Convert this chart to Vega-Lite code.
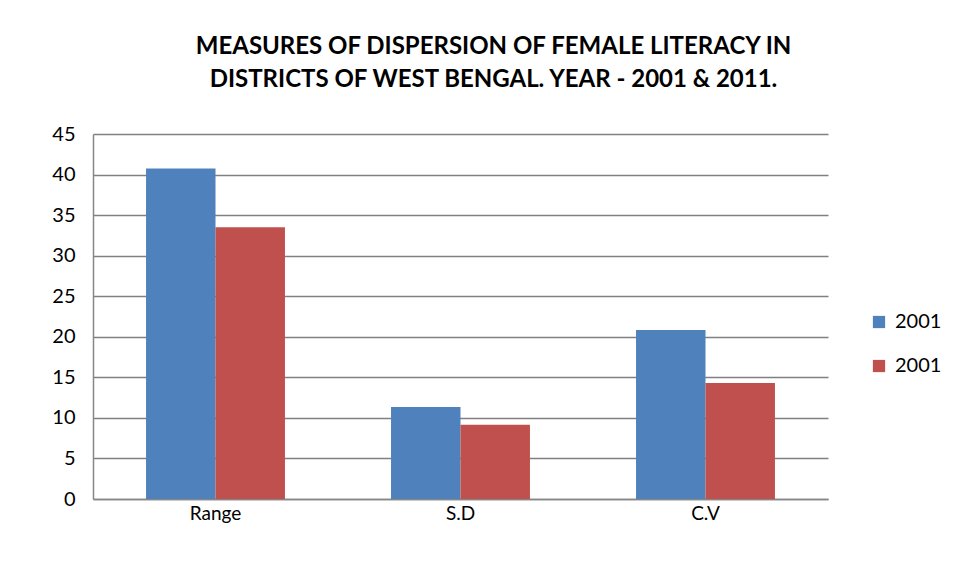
{
  "$schema": "https://vega.github.io/schema/vega-lite/v6.json",
  "autosize": {"type": "none"},
  "width": 735,
  "height": 365,
  "padding": {"left": 93, "top": 134, "right": 129, "bottom": 77},
  "background": "white",
  "title": {
    "text": ["MEASURES OF DISPERSION OF FEMALE LITERACY IN", "DISTRICTS OF WEST BENGAL. YEAR - 2001 & 2011."],
    "font": "Lato",
    "fontSize": 24,
    "fontWeight": "bold",
    "color": "#000000",
    "lineHeight": 33,
    "anchor": "middle",
    "dx": 33,
    "offset": 32
  },
  "data": {
    "values": [
      {"measure": "Range", "year": "2001", "value": 40.75},
      {"measure": "Range", "year": "2011", "value": 33.5},
      {"measure": "S.D", "year": "2001", "value": 11.35},
      {"measure": "S.D", "year": "2011", "value": 9.15},
      {"measure": "C.V", "year": "2001", "value": 20.85},
      {"measure": "C.V", "year": "2011", "value": 14.3}
    ]
  },
  "mark": {"type": "bar"},
  "encoding": {
    "x": {
      "field": "measure",
      "type": "nominal",
      "sort": ["Range", "S.D", "C.V"],
      "scale": {"paddingInner": 0.433, "paddingOuter": 0.2165},
      "axis": {
        "title": null,
        "labelAngle": 0,
        "labelFont": "Lato",
        "labelFontSize": 19,
        "labelColor": "#000000",
        "labelPadding": 5,
        "ticks": false,
        "domainColor": "#868686",
        "domainWidth": 1.5
      }
    },
    "xOffset": {"field": "year", "type": "nominal"},
    "y": {
      "field": "value",
      "type": "quantitative",
      "scale": {"domain": [0, 45]},
      "axis": {
        "title": null,
        "values": [0, 5, 10, 15, 20, 25, 30, 35, 40, 45],
        "labelFont": "Lato",
        "labelFontSize": 20,
        "labelColor": "#000000",
        "labelPadding": 18,
        "ticks": false,
        "domainColor": "#868686",
        "domainWidth": 1.5,
        "gridColor": "#808080",
        "gridWidth": 1.4
      }
    },
    "color": {
      "field": "year",
      "type": "nominal",
      "scale": {"domain": ["2001", "2011"], "range": ["#4F81BD", "#C0504D"]},
      "legend": {
        "title": null,
        "orient": "none",
        "legendX": 776,
        "legendY": 178,
        "symbolType": "square",
        "symbolSize": 150,
        "symbolStrokeWidth": 0,
        "labelFont": "Lato",
        "labelFontSize": 20,
        "labelColor": "#000000",
        "labelOffset": 6,
        "rowPadding": 24,
        "labelExpr": "'2001'"
      }
    }
  },
  "config": {"view": {"stroke": null}}
}
